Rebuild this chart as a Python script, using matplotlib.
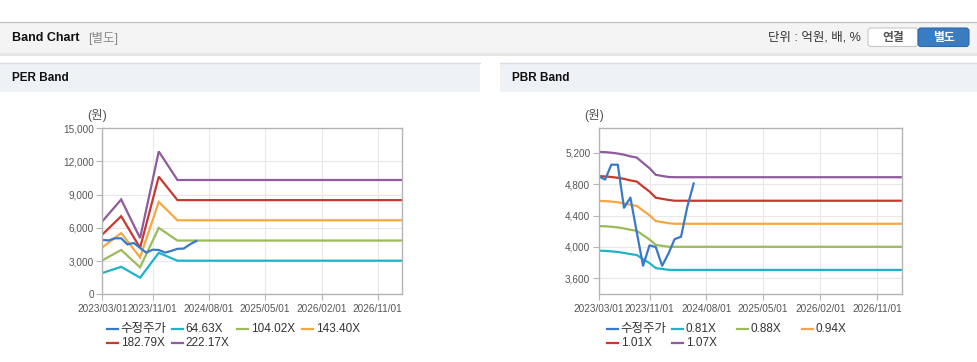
import matplotlib
matplotlib.use('Agg')
import matplotlib.pyplot as plt
import matplotlib.dates as mdates
from matplotlib.patches import Rectangle, FancyBboxPatch
from matplotlib.lines import Line2D
import pandas as pd

plt.rcParams['font.family'] = ['Liberation Sans', 'Noto Sans CJK KR']

# ---- data ----
price_dates = pd.date_range('2023-03-01', periods=16, freq='MS')
price = [4900, 4860, 5050, 5050, 4500, 4630, 4180, 3760,
         4020, 4000, 3760, 3920, 4100, 4130, 4510, 4810]

per_dates = pd.to_datetime(['2023-03-01', '2023-06-01', '2023-09-01',
                            '2023-12-01', '2024-03-01', '2027-03-01'])
per_labels = ['64.63X', '104.02X', '143.40X', '182.79X', '222.17X']
per_6463 = [1920, 2480, 1500, 3740, 3030, 3030]
per_10402 = [3060, 4000, 2430, 5990, 4850, 4850]
per_14340 = [4230, 5520, 3330, 8330, 6675, 6675]
per_18279 = [5390, 7040, 4190, 10610, 8495, 8495]
per_22217 = [6580, 8550, 5070, 12885, 10310, 10310]

pbr_dates = pd.to_datetime(list(pd.date_range('2023-03-01', periods=13, freq='MS')) + ['2027-03-01'])
pbr_labels = ['0.81X', '0.88X', '0.94X', '1.01X', '1.07X']
pbr_081 = [3952, 3950, 3944, 3936, 3924, 3909, 3897, 3845, 3794, 3731, 3719, 3709, 3707, 3707]
pbr_088 = [4266, 4264, 4258, 4249, 4236, 4219, 4206, 4151, 4095, 4027, 4014, 4003, 4002, 4002]
pbr_094 = [4588, 4585, 4579, 4570, 4556, 4538, 4524, 4464, 4404, 4331, 4317, 4303, 4296, 4296]
pbr_101 = [4903, 4900, 4893, 4883, 4869, 4849, 4834, 4770, 4707, 4628, 4614, 4600, 4590, 4590]
pbr_107 = [5213, 5210, 5203, 5192, 5177, 5156, 5140, 5072, 5005, 4921, 4906, 4893, 4890, 4890]

tick_dates = pd.to_datetime(['2023-03-01', '2023-11-01', '2024-08-01',
                             '2025-05-01', '2026-02-01', '2026-11-01'])
price_label = '수정주가'

colors = ['#3a78c8', '#1fb3c9', '#9bbb59', '#f5a742', '#c8382e', '#8e5b9c']

W, H = 978, 362
fig = plt.figure(figsize=(W / 100, H / 100), dpi=100)
fig.patch.set_facecolor('white')

# background layer in pixel coordinates
bg = fig.add_axes([0, 0, 1, 1], zorder=-5)
bg.set_xlim(0, W)
bg.set_ylim(H, 0)
bg.axis('off')

bg.add_patch(Rectangle((0, 52.5), W, 3, color='#e6e6e6', lw=0))
bg.add_patch(Rectangle((0, 22), W, 30.5, facecolor='#f4f4f4', edgecolor='none'))
bg.plot([0, W], [22.3, 22.3], color='#c4c4c4', lw=1)
bg.text(12, 38, 'Band Chart', fontsize=9, fontweight='bold', color='#111', va='center')
bg.text(88, 38.5, '[별도]', fontsize=9, color='#8a8a8a', va='center')
bg.text(861, 38, '단위 : 억원, 배, %', fontsize=9, color='#333', va='center', ha='right')
bg.add_patch(FancyBboxPatch((868, 28), 50, 18.5, boxstyle='round,pad=0,rounding_size=3',
                            facecolor='white', edgecolor='#c8c8c8', lw=0.8))
bg.add_patch(FancyBboxPatch((918, 28), 51, 18.5, boxstyle='round,pad=0,rounding_size=3',
                            facecolor='#3a7cc0', edgecolor='#2f6aa8', lw=0.8))
bg.text(893, 37.5, '연결', fontsize=8.5, fontweight='bold', color='#555', ha='center', va='center')
bg.text(943.5, 37.5, '별도', fontsize=8.5, fontweight='bold', color='white', ha='center', va='center')

for x0, x1, title in [(0, 480, 'PER Band'), (500, W, 'PBR Band')]:
    bg.add_patch(Rectangle((x0, 63.3), x1 - x0, 28.4, facecolor='#eef1f6', edgecolor='none'))
    bg.plot([x0, x1], [63.3, 63.3], color='#d9dde3', lw=1)
    bg.text(x0 + 12, 78, title, fontsize=8.5, fontweight='bold', color='#111', va='center')


def draw_panel(left_px, right_px, dates_b, bands, labels, ylim, yticks, legend_x):
    ax = fig.add_axes([left_px / W, (H - 294.3) / H, (right_px - left_px) / W, (294.3 - 128.0) / H])
    ax.set_facecolor('white')
    for vals, c in zip(bands, colors[1:]):
        ax.plot(dates_b, vals, color=c, lw=1.6, solid_joinstyle='miter')
    ax.plot(price_dates, price, color=colors[0], lw=1.6)
    ax.set_xlim(pd.Timestamp('2023-03-01'), pd.Timestamp('2027-03-01'))
    ax.set_ylim(*ylim)
    ax.set_yticks(yticks)
    ax.set_yticklabels([f'{v:,}' for v in yticks])
    ax.set_xticks(tick_dates)
    ax.xaxis.set_major_formatter(mdates.DateFormatter('%Y/%m/%d'))
    ax.grid(True, color='#e8e8e8', lw=0.8)
    ax.set_axisbelow(True)
    for s in ax.spines.values():
        s.set_color('#b4b4b4')
        s.set_linewidth(1)
    ax.tick_params(axis='both', colors='#b4b4b4', labelcolor='#555', labelsize=7.2,
                   length=4, width=0.8)
    ax.tick_params(axis='y', pad=2)
    ax.tick_params(axis='x', pad=3)

    bg.text(left_px - 5, 116, '(원)', fontsize=9, color='#555', ha='center', va='center')

    names = [price_label] + labels
    for i, name in enumerate(names):
        col, row = i % 4, i // 4
        hx = legend_x + 65 * col
        hy = 329.3 + 13.4 * row
        bg.add_line(Line2D([hx, hx + 11.5], [hy, hy], color=colors[i], lw=1.6))
        fs = 9 if i == 0 else 8.5
        bg.text(hx + 14, hy, name, fontsize=fs, color='#333', va='center')
    return ax


draw_panel(102.3, 402.3, per_dates,
           [per_6463, per_10402, per_14340, per_18279, per_22217], per_labels,
           (0, 15000), [0, 3000, 6000, 9000, 12000, 15000], 106.7)
draw_panel(598.7, 901.7, pbr_dates,
           [pbr_081, pbr_088, pbr_094, pbr_101, pbr_107], pbr_labels,
           (3396, 5518), [3600, 4000, 4400, 4800, 5200], 606.7)

fig.savefig('out.png', dpi=100)
